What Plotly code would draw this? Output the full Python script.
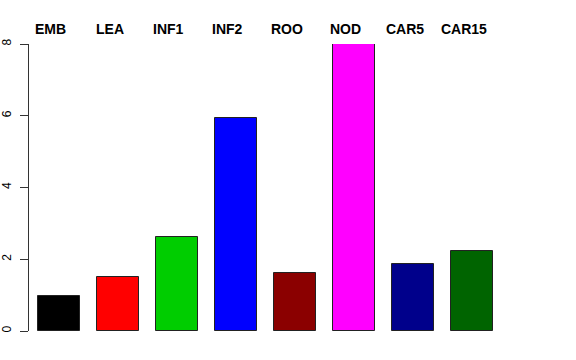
import plotly.graph_objects as go

categories = ["EMB", "LEA", "INF1", "INF2", "ROO", "NOD", "CAR5", "CAR15"]
values = [0.98, 1.51, 2.63, 5.95, 1.63, 8.0, 1.87, 2.24]
colors = ["#000000", "#FF0000", "#00CD00", "#0000FF", "#8B0000", "#FF00FF", "#00008B", "#006400"]
y_ticks = [0, 2, 4, 6, 8]

positions = list(range(len(categories)))

fig = go.Figure()
fig.add_trace(go.Bar(
    x=positions, y=values, width=1 / 1.4,
    marker=dict(color=colors, line=dict(color="#222222", width=1)),
    cliponaxis=False, showlegend=False, hoverinfo="skip",
))

for p, c in zip(positions, categories):
    fig.add_annotation(
        x=p - 0.14, y=1, xref="x", yref="paper", yshift=15,
        text="<b>" + c + "</b>", showarrow=False,
        font=dict(family="Liberation Sans, Arial, sans-serif", size=14, color="black"),
        xanchor="center", yanchor="middle",
    )

fig.update_layout(
    width=576, height=360,
    margin=dict(l=29, r=74, t=44, b=29, autoexpand=False),
    paper_bgcolor="white", plot_bgcolor="white",
    font=dict(family="Liberation Sans, Arial, sans-serif", size=12, color="black"),
    xaxis=dict(range=[-0.512, 7.512], showticklabels=False, showgrid=False,
               zeroline=False, showline=False, ticks="", automargin=False),
    yaxis=dict(range=[0, 8], tickvals=y_ticks, ticktext=[str(v) for v in y_ticks],
               tickangle=-90, ticks="outside", ticklen=8, tickwidth=1, tickcolor="#333333",
               ticklabelstandoff=4,
               showline=True, linecolor="#333333", linewidth=1,
               showgrid=False, zeroline=False, automargin=False,
               tickfont=dict(size=12, color="black")),
    bargap=0,
)

fig.write_html(
    "out.html",
    config={"displayModeBar": False},
    post_script="document.body.style.margin='0';document.body.style.overflow='hidden';",
)
